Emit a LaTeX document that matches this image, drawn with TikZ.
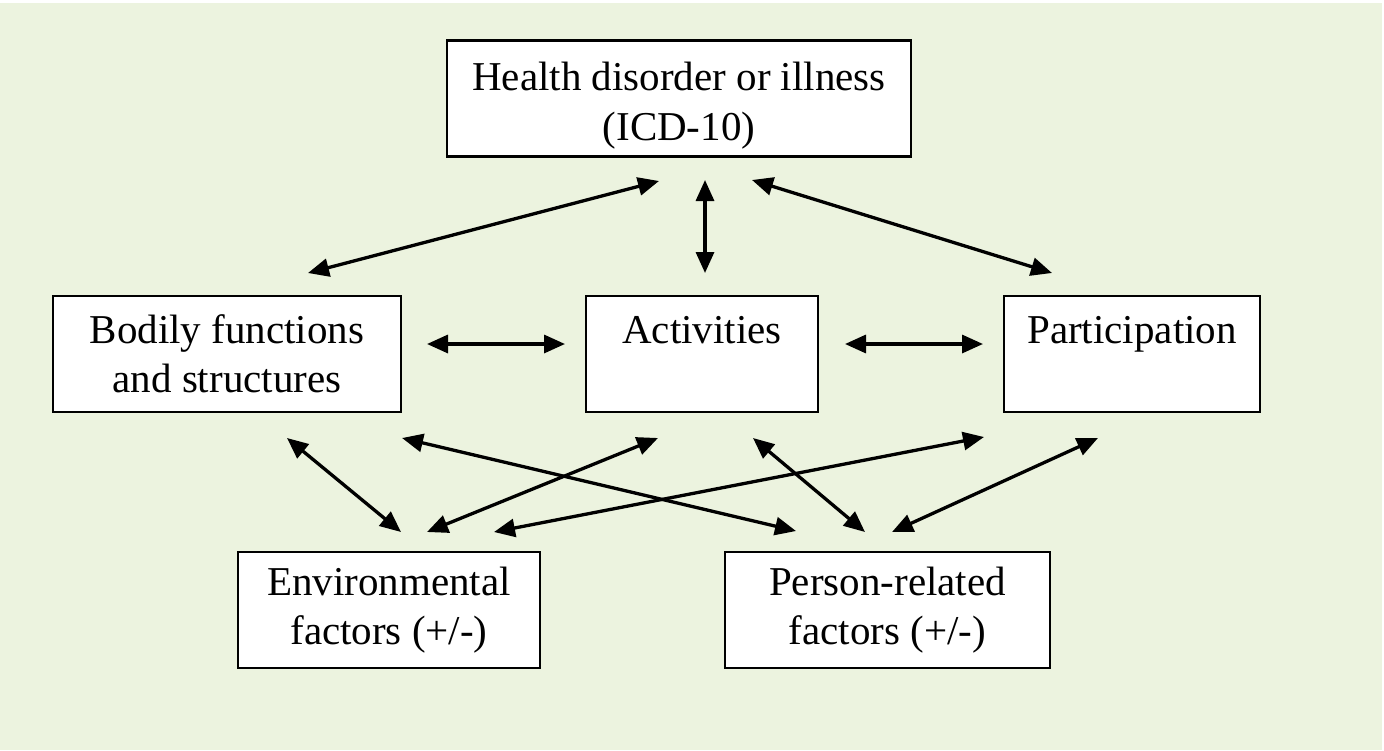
\documentclass[tikz,border=0pt]{standalone}
\usepackage{fontspec}
\setmainfont{Liberation Serif}
\usetikzlibrary{arrows.meta}
\definecolor{bggreen}{HTML}{ECF3DF}

\begin{document}
\begin{tikzpicture}[x=1pt, y=-1pt, > = {Triangle[length=21pt, width=18pt]},
box/.style = {draw, fill=white, line width=2.6pt, align=center, inner sep=0pt,
			  minimum height=116pt, font=\fontsize{41}{49}\selectfont},
link/.style = {<->, line width=3.3pt},
]

	\useasboundingbox (0,0) rectangle (1384,750);
	\fill[white] (0,0) rectangle (1384,750);
	\fill[bggreen] (0,3) rectangle (1382,750); % background

	\node[box, minimum width=464pt] (health) at (679,98.5) {\rule{0pt}{42pt}Health disorder or illness\\[1pt](ICD-10)};
	\node[box, minimum width=348pt] (bodily) at (227,354) {Bodily functions\\and structures};
	\node[box, minimum width=232pt] (activities) at (702,354) {Activities\\\mbox{}};
	\node[box, minimum width=256pt] (participation) at (1132,354) {Participation\\\mbox{}};
	\node[box, minimum width=302pt] (environment) at (389,610) {Environmental\\factors (+/-)};
	\node[box, minimum width=325pt] (person) at (887.5,610) {Person-related\\factors (+/-)};

	% arrow ends
	\coordinate (h-b) at (308,273);   \coordinate (b-h) at (659,181);
	\coordinate (h-a) at (705,180);   \coordinate (a-h) at (705,273);
	\coordinate (h-p) at (752,180);   \coordinate (p-h) at (1052,273);
	\coordinate (b-a) at (427,344);   \coordinate (a-b) at (565,344);
	\coordinate (a-p) at (845,344);   \coordinate (p-a) at (983,344);
	\coordinate (b-e) at (287,438);   \coordinate (e-b) at (401,532);
	\coordinate (b-r) at (402,438);   \coordinate (r-b) at (796,531);
	\coordinate (a-e) at (658,438);   \coordinate (e-a) at (427,532);
	\coordinate (p-e) at (984,437);   \coordinate (e-p) at (494,532);
	\coordinate (a-r) at (753,438);   \coordinate (r-a) at (865,532);
	\coordinate (p-r) at (1098,438);  \coordinate (r-p) at (892,532);

	\draw[link] (h-b) -- (b-h);
	\draw[link] (h-a) -- (a-h);
	\draw[link] (h-p) -- (p-h);
	\draw[link] (b-a) -- (a-b);
	\draw[link] (a-p) -- (p-a);
	\draw[link] (b-e) -- (e-b);
	\draw[link] (b-r) -- (r-b);
	\draw[link] (a-e) -- (e-a);
	\draw[link] (p-e) -- (e-p);
	\draw[link] (a-r) -- (r-a);
	\draw[link] (p-r) -- (r-p);

\end{tikzpicture}
\end{document}
